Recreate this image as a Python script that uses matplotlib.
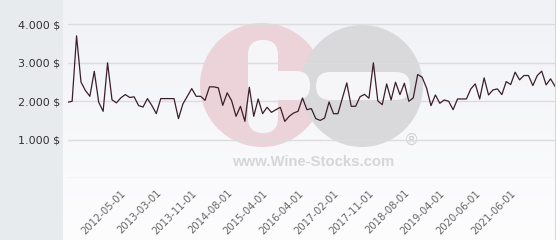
import numpy as np
import matplotlib
matplotlib.use("Agg")
import matplotlib.pyplot as plt
from matplotlib.colors import LinearSegmentedColormap
from matplotlib.patches import Circle, FancyBboxPatch, Rectangle

# price per auction (USD)
prices = [
    1975, 2000, 3700, 2500, 2280, 2130, 2780, 1975, 1740, 3000,
    2040, 1960, 2090, 2175, 2100, 2115, 1890, 1850, 2070, 1890,
    1680, 2070, 2070, 2070, 2070, 1550, 1930, 2130, 2330, 2130,
    2130, 2025, 2375, 2375, 2350, 1895, 2220, 2017, 1610, 1870,
    1480, 2365, 1610, 2060, 1680, 1845, 1713, 1783, 1843, 1478,
    1610, 1696, 1740, 2087, 1783, 1810, 1550, 1504, 1565, 1983,
    1678, 1678, 2080, 2478, 1870, 1870, 2120, 2180, 2080, 3000,
    2010, 1913, 2452, 2035, 2496, 2174, 2470, 2000, 2087, 2696,
    2626, 2348, 1887, 2165, 1948, 2035, 2000, 1783, 2061, 2061,
    2061, 2322, 2452, 2061, 2609, 2165, 2296, 2322, 2174, 2513,
    2435, 2757, 2557, 2670, 2670, 2409, 2670, 2783, 2426, 2583,
    2391,
]

x_labels = ["2012-05-01", "2013-03-01", "2013-11-01", "2014-08-01",
            "2015-04-01", "2016-04-01", "2017-02-01", "2017-11-01",
            "2018-08-01", "2019-04-01", "2020-06-01", "2021-06-01"]
first_label = 12
label_step = 8

y_ticks = [0, 1000, 2000, 3000, 4000]
y_labels = ["", "1.000 $", "2.000 $", "3.000 $", "4.000 $"]

W, H = 560, 240
fig = plt.figure(figsize=(W / 100, H / 100), dpi=100)
fig.patch.set_facecolor("white")

# grey panel on the left (behind everything)
fig.add_artist(Rectangle((0, 0), 63 / W, 1, transform=fig.transFigure,
                         facecolor="#e8ebee", edgecolor="none", zorder=-5))

# soft background behind the plot + right border
bg = fig.add_axes([63 / W, 0, (556 - 63) / W, 1])
grad = np.linspace(0, 1, 256).reshape(-1, 1)
cmap = LinearSegmentedColormap.from_list("bg", ["#f1f2f6", "#fdfdfe"])
bg.imshow(grad, aspect="auto", cmap=cmap, extent=[0, 1, 0, 1], origin="upper")
bg.axis("off")
bg.axvline(1, color="#cfcfcf", lw=1.2)

# watermark, in pixel units
wm = fig.add_axes([0, 0, 1, 1])
wm.set_xlim(0, W)
wm.set_ylim(H, 0)
wm.axis("off")
wm.add_patch(Circle((262, 85), 62, facecolor="#ecd3da", edgecolor="none"))
wm.add_patch(Circle((362, 86), 61, facecolor="#d9d9db", edgecolor="none"))
wm.add_patch(FancyBboxPatch((248, 40), 30, 93, boxstyle="round,pad=0,rounding_size=15",
                            facecolor="#f6f6f9", edgecolor="none"))
wm.add_patch(FancyBboxPatch((250, 71), 60, 29, boxstyle="round,pad=0,rounding_size=14",
                            facecolor="#f6f6f9", edgecolor="none"))
wm.add_patch(FancyBboxPatch((316, 72), 94, 28, boxstyle="round,pad=0,rounding_size=14",
                            facecolor="#f6f6f9", edgecolor="none"))
wm.text(313, 162, "www.Wine-Stocks.com", ha="center", va="center",
        fontsize=10.7, fontweight="bold", family="Liberation Sans", color="#d6d6d8")
wm.text(412, 140, "®", ha="center", va="center", fontsize=11, color="#d0d0d2")

# main chart
ax = fig.add_axes([67.7 / W, 1 - 178.3 / H, 487.3 / W, 178.3 / H])
ax.set_facecolor("none")
x = np.arange(len(prices))
ax.plot(x, prices, color="#3b1f2b", lw=0.9)
ax.set_xlim(0, len(prices) - 1)
ax.set_ylim(0, 4000 * 178.3 / 154)

ax.set_yticks(y_ticks)
ax.set_yticklabels(y_labels)
ax.set_xticks([first_label + label_step * i for i in range(len(x_labels))])
ax.set_xticklabels(x_labels, rotation=45, ha="right", rotation_mode="anchor")
ax.tick_params(axis="y", length=0, pad=5.5, labelsize=8, labelcolor="#333333")
ax.tick_params(axis="x", length=0, pad=7, labelsize=7.2, labelcolor="#666666")
ax.grid(axis="y", color="#dcdcdc", lw=1)
ax.set_axisbelow(True)
for s in ax.spines.values():
    s.set_visible(False)

fig.savefig("out.png", dpi=100)
